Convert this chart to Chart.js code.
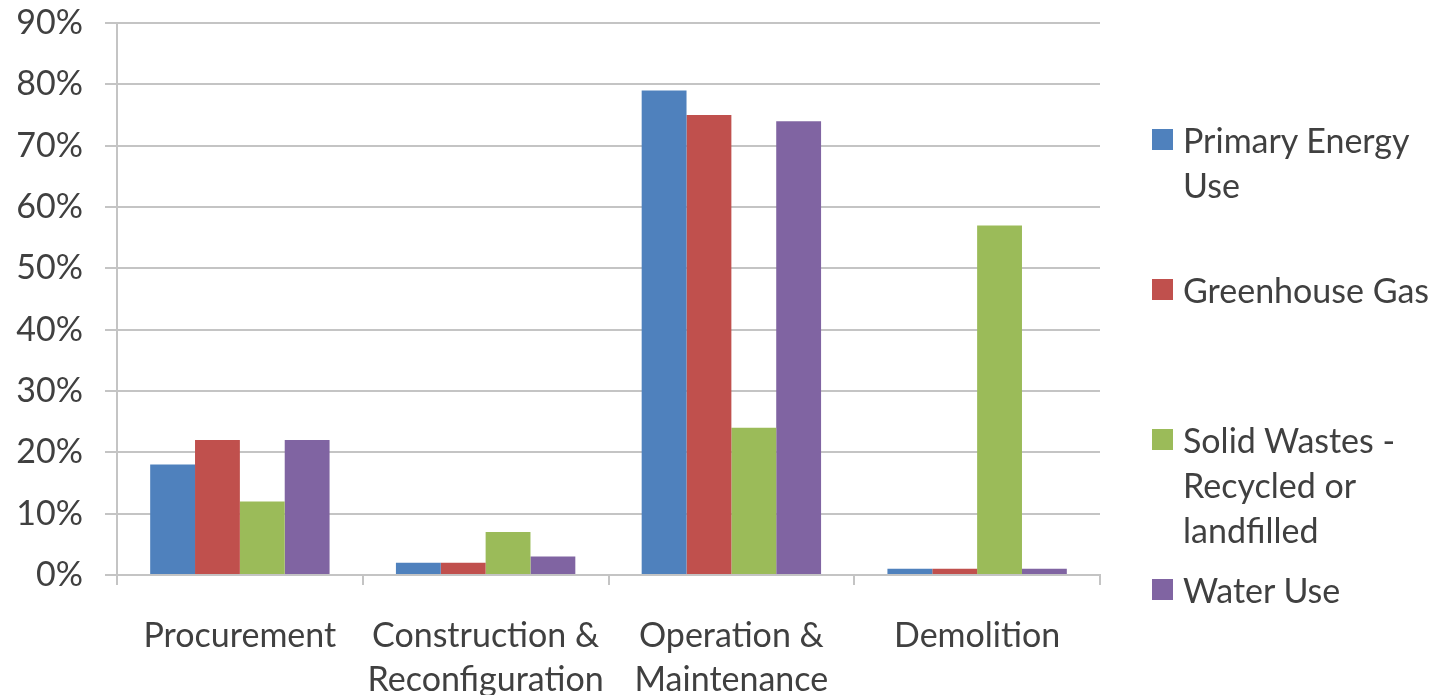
<!DOCTYPE html>
<html>
<head>
<meta charset="utf-8">
<script src="https://cdn.jsdelivr.net/npm/chart.js@4"></script>
<style>
  html, body { margin: 0; padding: 0; background: #fff; }
  .wrap { position: relative; width: 1434px; height: 695px; }
  .legend { position: absolute; left: 1152px; top: 0; font-family: Lato, sans-serif; font-size: 34px; color: #404040; }
  .legend .item { position: absolute; left: 0; width: 290px; line-height: 45px; padding-left: 31px; white-space: nowrap; }
  .legend .box { position: absolute; left: 0; top: 12px; width: 21px; height: 21px; }
</style>
</head>
<body>
<div class="wrap">
  <canvas id="lifeChart" width="1434" height="695"></canvas>
  <div class="legend" id="legend"></div>
</div>
<script>
// data
const phases = ['Procurement', ['Construction &', 'Reconfiguration'], ['Operation &', 'Maintenance'], 'Demolition']
const seriesNames = [['Primary Energy', 'Use'], ['Greenhouse Gas'], ['Solid Wastes -', 'Recycled or', 'landfilled'], ['Water Use']]
const primaryEnergy = [0.18, 0.02, 0.79, 0.01]
const greenhouseGas = [0.22, 0.02, 0.75, 0.01]
const solidWastes = [0.12, 0.07, 0.24, 0.57]
const waterUse = [0.22, 0.03, 0.74, 0.01]
const yTicks = [0, 0.1, 0.2, 0.3, 0.4, 0.5, 0.6, 0.7, 0.8, 0.9]

const colors = ['#4F81BD', '#C0504D', '#9BBB59', '#8064A2']
const legendTops = [117, 267, 417, 567]
const gridColor = '#c4c4c4'
const textColor = '#404040'

const allSeries = [primaryEnergy, greenhouseGas, solidWastes, waterUse]

const ctx = document.getElementById('lifeChart')
new Chart(ctx, {
  type: 'bar',
  data: {
    labels: phases,
    datasets: allSeries.map((vals, i) => ({
      label: seriesNames[i].join(' '),
      data: vals,
      backgroundColor: colors[i],
      borderWidth: 0,
      barPercentage: 1,
      categoryPercentage: 0.73
    }))
  },
  options: {
    responsive: false,
    animation: false,
    layout: { padding: { left: 0, right: 334, top: 0, bottom: 0 } },
    plugins: { legend: { display: false }, tooltip: { enabled: false } },
    font: { family: 'Lato' },
    scales: {
      x: {
        offset: true,
        grid: { offset: true, drawOnChartArea: false, color: gridColor, lineWidth: 2, tickLength: 10 },
        border: { color: gridColor, width: 2 },
        ticks: { color: textColor, font: { family: 'Lato', size: 34, lineHeight: 1.3 }, padding: 29, maxRotation: 0, autoSkip: false },
        afterFit: (s) => { s.height = 120 }
      },
      y: {
        min: 0,
        max: 0.9,
        afterBuildTicks: (s) => { s.ticks = yTicks.map(v => ({ value: v })) },
        grid: { color: gridColor, lineWidth: 2, tickLength: 12 },
        border: { color: gridColor, width: 2 },
        ticks: {
          color: textColor,
          font: { family: 'Lato', size: 34 },
          padding: 22,
          callback: (v) => Math.round(v * 100) + '%'
        },
        afterFit: (s) => { s.width = 117; s.paddingTop = 23; s.paddingBottom = 0 }
      }
    }
  }
})

// legend
const legend = document.getElementById('legend')
seriesNames.forEach((name, i) => {
  legend.innerHTML += `
    <div class="item" style="top:${legendTops[i]}px">
      <span class="box" style="background:${colors[i]}"></span>${name.join('<br>')}
    </div>`
})
</script>
</body>
</html>
